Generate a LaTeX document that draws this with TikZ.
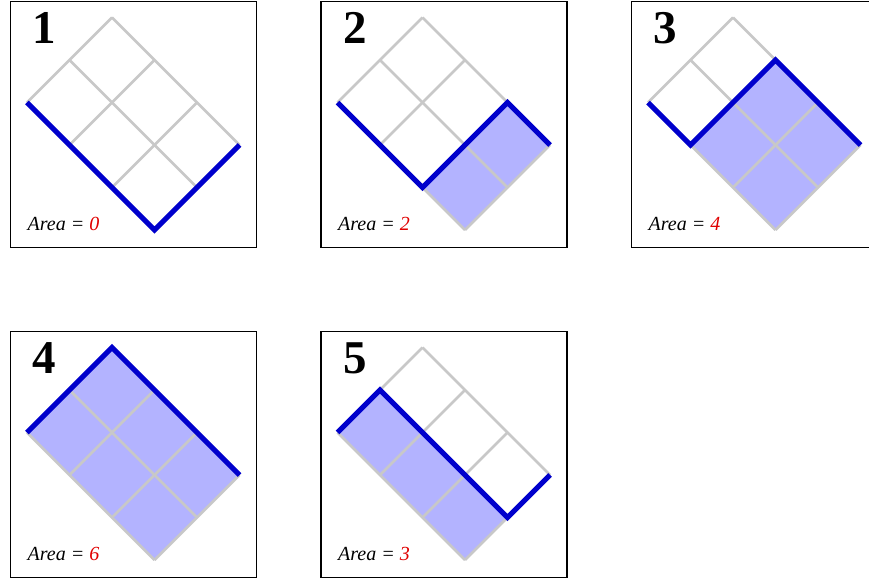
\documentclass[tikz,border=0pt]{standalone}
\usepackage{fontspec}
\setmainfont{Liberation Serif}
\definecolor{pathblue}{HTML}{0000CC}
\definecolor{areafill}{HTML}{B3B3FF}
\definecolor{gridgray}{HTML}{C8C8C8}
\definecolor{areared}{HTML}{E00000}
\begin{document}
\begin{tikzpicture}[x=1pt,y=-1pt,every node/.style={inner sep=0pt},
  cellgrid/.style={gridgray,line width=2.6pt},
  dyck/.style={pathblue,line width=5pt}]
\useasboundingbox (0,0) rectangle (869,580);
% one framed panel per lattice path
\foreach \n/\ox/\oy/\pth/\ar in {1/10.5/1.5/{(0,2) -- (3,2) -- (3,0)}/0,
  2/321/1.5/{(0,2) -- (2,2) -- (2,0) -- (3,0)}/2,
  3/631.5/1.5/{(0,2) -- (1,2) -- (1,0) -- (3,0)}/4,
  4/10.5/331.5/{(0,2) -- (0,0) -- (3,0)}/6,
  5/321/331.5/{(0,2) -- (0,1) -- (3,1) -- (3,0)}/3} {
\begin{scope}[shift={(\ox,\oy)}]
\draw[line width=1.4pt] (0,0) rectangle (246,246);
\node[anchor=base west,font=\bfseries\fontsize{47}{47}\selectfont] (num\n) at (22,42) {\n};
\node[anchor=base west,font=\itshape\fontsize{20}{20}\selectfont] (area\n) at (17,228.5) {Area = \textcolor{areared}{\ar}};
% tilted 3x2 lattice, cell diagonals along x and y
\begin{scope}[shift={(101.5,16)},x={(42.5pt,-42.5pt)},y={(-42.5pt,-42.5pt)}]
\fill[areafill] \pth -- (3,2) -- cycle;
\foreach \i in {0,...,3} \draw[cellgrid] (\i,0) -- (\i,2);
\foreach \j in {0,1,2} \draw[cellgrid] (0,\j) -- (3,\j);
\draw[dyck] \pth;
\end{scope}
\end{scope}}
\end{tikzpicture}
\end{document}
